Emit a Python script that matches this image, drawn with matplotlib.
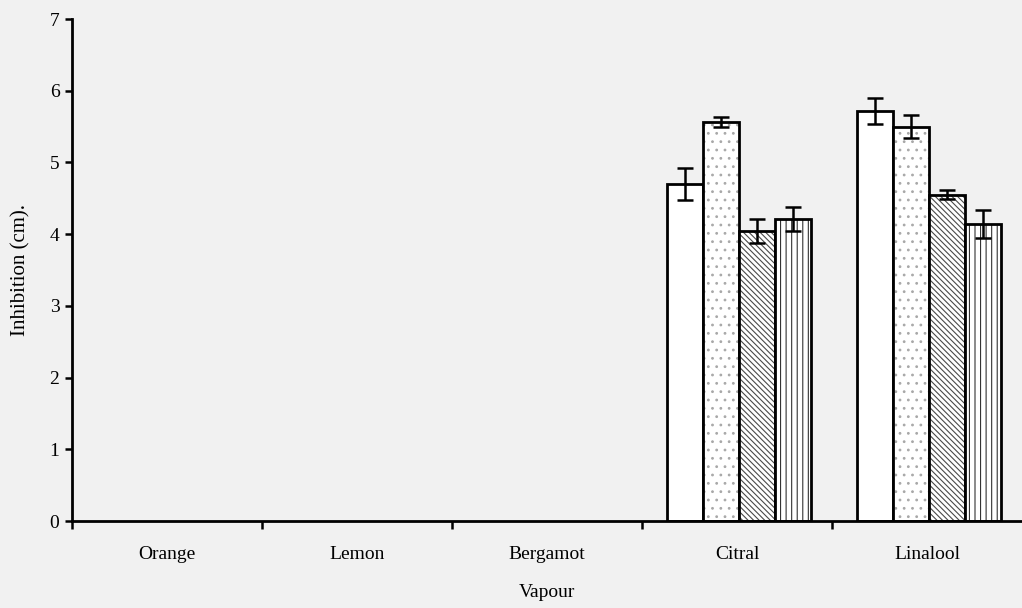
import matplotlib
matplotlib.use("Agg")
import matplotlib.pyplot as plt
import numpy as np

plt.rcParams['font.family'] = ['Liberation Serif', 'DejaVu Serif']
plt.rcParams['hatch.linewidth'] = 0.8

categories = ['Orange', 'Lemon', 'Bergamot', 'Citral', 'Linalool']

# four treatments per oil, zero where there was no inhibition
series_a = [0, 0, 0, 4.70, 5.72]
series_b = [0, 0, 0, 5.56, 5.50]
series_c = [0, 0, 0, 4.04, 4.55]
series_d = [0, 0, 0, 4.21, 4.14]

err_a = [0, 0, 0, 0.22, 0.18]
err_b = [0, 0, 0, 0.07, 0.16]
err_c = [0, 0, 0, 0.17, 0.06]
err_d = [0, 0, 0, 0.17, 0.19]

series = [series_a, series_b, series_c, series_d]
errors = [err_a, err_b, err_c, err_d]
hatches = ['', '..', '\\\\\\\\\\\\', '|||']
hatch_colors = ['black', '#a8a8a8', '#4a4a4a', '#333333']

bg = '#f1f1f1'
fig = plt.figure(figsize=(10.22, 6.08), dpi=100, facecolor=bg)
ax = fig.add_axes([72 / 1022, 87 / 608, 950 / 1022, 502 / 608])
ax.set_facecolor(bg)

x = np.arange(len(categories))
width = 0.19
offsets = (np.arange(4) - 1.5) * width + 0.01

for vals, errs, h, hc, off in zip(series, errors, hatches, hatch_colors, offsets):
    vals = np.array(vals)
    errs = np.array(errs)
    mask = vals > 0
    bars = ax.bar(x[mask] + off, vals[mask], width, color='white',
                  edgecolor='black', linewidth=2, hatch=h, zorder=2)
    for b in bars:
        b._hatch_color = matplotlib.colors.to_rgba(hc)
    ax.errorbar(x[mask] + off, vals[mask], yerr=errs[mask], fmt='none',
                ecolor='black', elinewidth=1.8, capsize=6, capthick=1.8, zorder=3)

ax.set_xlim(-0.5, len(categories) - 0.5)
ax.set_ylim(0, 7)
ax.set_yticks(range(8))
ax.set_xticks(x)
ax.set_xticklabels(categories, fontsize=14)
ax.set_xticks(np.arange(len(categories)) - 0.5, minor=True)
ax.tick_params(axis='x', which='major', length=0, pad=18)
ax.tick_params(axis='x', which='minor', length=6, width=1.8, direction='out')
ax.tick_params(axis='y', length=5, width=1.8, labelsize=14, pad=4)

for side in ['top', 'right']:
    ax.spines[side].set_visible(False)
for side in ['left', 'bottom']:
    ax.spines[side].set_linewidth(2)

ax.set_ylabel('Inhibition (cm).', fontsize=15, labelpad=14)
ax.set_xlabel('Vapour', fontsize=14, labelpad=15)

fig.savefig('out.png', dpi=100, facecolor=bg)
